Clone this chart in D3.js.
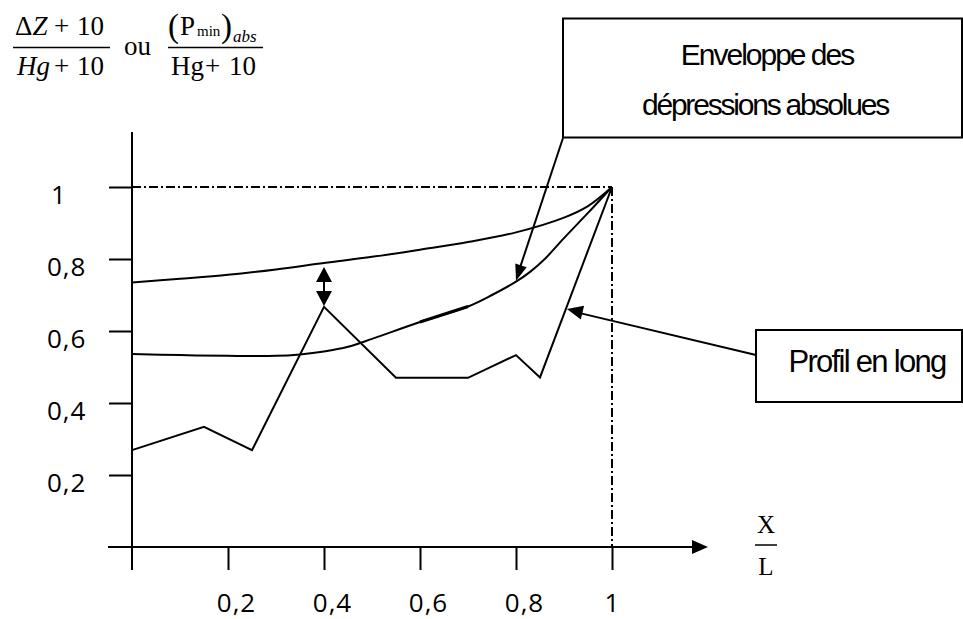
<!DOCTYPE html>
<html>
<head>
<meta charset="utf-8">
<script src="https://cdn.jsdelivr.net/npm/d3@7"></script>
<style>
  body { margin: 0; background: #fff; }
  svg { display: block; }
  .tick text { font-family: "Open Sans", sans-serif; font-size: 26px; letter-spacing: 1px; fill: #000; }
  .tick line { stroke: #000; stroke-width: 2; }
  .math { font-family: "Liberation Serif", "Times New Roman", serif; fill: #000; }
  .box text { font-family: "Liberation Sans", Arial, sans-serif; fill: #000; }
</style>
</head>
<body>
<script>
let w = 963;
let h = 619;

// axis ticks
let xTicks = [0.2, 0.4, 0.6, 0.8, 1];
let yTicks = [0.2, 0.4, 0.6, 0.8, 1];

// (ΔZ+10)/(Hg+10) curve
let upperX = [0, 0.1, 0.2, 0.3, 0.4, 0.5, 0.6, 0.7, 0.8, 0.9, 0.95, 1];
let upperY = [0.735, 0.745, 0.756, 0.771, 0.789, 0.806, 0.826, 0.847, 0.874, 0.915, 0.947, 1];

// enveloppe des dépressions absolues
let envX = [0, 0.1, 0.2, 0.3, 0.35, 0.4, 0.45, 0.5, 0.6, 0.7, 0.75, 0.8, 0.83, 0.86, 0.9, 0.95, 1];
let envY = [0.536, 0.533, 0.531, 0.531, 0.535, 0.543, 0.556, 0.578, 0.625, 0.668, 0.70, 0.737, 0.765, 0.80, 0.858, 0.928, 1];

// profil en long
let profX = [0, 0.15, 0.25, 0.4, 0.55, 0.7, 0.8, 0.85, 1];
let profY = [0.269, 0.334, 0.269, 0.667, 0.47, 0.47, 0.533, 0.471, 1];

let x = d3.scaleLinear().domain([0, 1]).range([132, 612]);
let y = d3.scaleLinear().domain([0, 1]).range([547, 187]);

let fr = d3.formatLocale({ decimal: ",", thousands: ".", grouping: [3], currency: ["", ""] });
let fmt = d => fr.format("~g")(d);

let svg = d3.select("body")
            .append("svg")
            .attr("width", w)
            .attr("height", h);

// dash-dot guides to (1,1)
svg.append("line")
   .attr("x1", x(0)).attr("y1", y(1))
   .attr("x2", x(1)).attr("y2", y(1))
   .attr("stroke", "#000").attr("stroke-width", 2)
   .attr("stroke-dasharray", "9,3,2,3");
svg.append("line")
   .attr("x1", x(1)).attr("y1", y(1))
   .attr("x2", x(1)).attr("y2", y(0))
   .attr("stroke", "#000").attr("stroke-width", 2)
   .attr("stroke-dasharray", "9,3,2,3");

// x axis
let xAxis = svg.append("g")
   .attr("transform", "translate(0," + y(0) + ")")
   .call(d3.axisBottom(x).tickValues(xTicks).tickSize(23).tickSizeOuter(0).tickFormat(fmt));
xAxis.select(".domain").remove();
xAxis.selectAll(".tick text")
     .attr("y", 65).attr("dy", 0)
     .attr("x", d => d < 1 ? 8 : 0);
svg.append("line")
   .attr("x1", 108).attr("y1", y(0))
   .attr("x2", 694).attr("y2", y(0))
   .attr("stroke", "#000").attr("stroke-width", 2);
svg.append("path")
   .attr("d", "M692," + (y(0) - 7) + "L708," + y(0) + "L692," + (y(0) + 7) + "Z")
   .attr("fill", "#000");

// y axis
let yAxis = svg.append("g")
   .attr("transform", "translate(" + x(0) + ",0)")
   .call(d3.axisLeft(y).tickValues(yTicks).tickSize(23).tickSizeOuter(0).tickFormat(fmt));
yAxis.select(".domain").remove();
yAxis.selectAll(".tick text")
     .attr("text-anchor", "start")
     .attr("x", d => d < 1 ? -85 : -81).attr("dy", 0).attr("y", 16.5);
svg.append("line")
   .attr("x1", x(0)).attr("y1", 132)
   .attr("x2", x(0)).attr("y2", 570)
   .attr("stroke", "#000").attr("stroke-width", 2);

// curves
let curve = d3.line()
              .x(d => x(d[0]))
              .y(d => y(d[1]))
              .curve(d3.curveCatmullRom.alpha(0.5));

let upper = d3.zip(upperX, upperY);
let env = d3.zip(envX, envY);
let prof = d3.zip(profX, profY);

svg.append("path")
   .attr("d", curve(upper))
   .attr("fill", "none").attr("stroke", "#000").attr("stroke-width", 2);
svg.append("path")
   .attr("d", curve(env))
   .attr("fill", "none").attr("stroke", "#000").attr("stroke-width", 2);
// small overdrawn piece on the envelope
svg.append("path")
   .attr("d", curve(env.filter(d => d[0] >= 0.6 && d[0] <= 0.7)))
   .attr("fill", "none").attr("stroke", "#000").attr("stroke-width", 3);

svg.append("path")
   .attr("d", d3.line().x(d => x(d[0])).y(d => y(d[1]))(prof))
   .attr("fill", "none").attr("stroke", "#000").attr("stroke-width", 2)
   .attr("stroke-linejoin", "miter");

// arrow helper: filled triangle at (tx,ty) pointing away from (fx,fy)
function arrowHead(fx, fy, tx, ty, len, half) {
  let a = Math.atan2(ty - fy, tx - fx);
  let bx = tx - len * Math.cos(a), by = ty - len * Math.sin(a);
  let px = -Math.sin(a) * half, py = Math.cos(a) * half;
  svg.append("path")
     .attr("d", "M" + tx + "," + ty + "L" + (bx + px) + "," + (by + py) + "L" + (bx - px) + "," + (by - py) + "Z")
     .attr("fill", "#000");
}

// double arrow between the two quantities at x = 0.4
let dax = x(0.4);
let daTop = y(0.789) + 4, daBot = y(0.667) - 1;
svg.append("line")
   .attr("x1", dax).attr("y1", daTop + 10)
   .attr("x2", dax).attr("y2", daBot - 10)
   .attr("stroke", "#000").attr("stroke-width", 2);
arrowHead(dax, daBot, dax, daTop, 15, 8);
arrowHead(dax, daTop, dax, daBot, 15, 8);

// annotation boxes
let boxes = svg.append("g").attr("class", "box");

boxes.append("rect")
     .attr("x", 563).attr("y", 18.5).attr("width", 399).attr("height", 119)
     .attr("fill", "none").attr("stroke", "#000").attr("stroke-width", 2);
boxes.append("text")
     .attr("x", 767).attr("y", 65).attr("text-anchor", "middle")
     .style("font-size", "30px").style("letter-spacing", "-2px")
     .text("Enveloppe des");
boxes.append("text")
     .attr("x", 765).attr("y", 115).attr("text-anchor", "middle")
     .style("font-size", "30px").style("letter-spacing", "-2.2px")
     .text("dépressions absolues");

let envTip = [x(0.8), y(0.737) - 1];
svg.append("line")
   .attr("x1", 563).attr("y1", 138)
   .attr("x2", envTip[0] + 3).attr("y2", envTip[1] - 10)
   .attr("stroke", "#000").attr("stroke-width", 2);
arrowHead(563, 138, envTip[0], envTip[1], 16, 6);

boxes.append("rect")
     .attr("x", 756).attr("y", 330).attr("width", 206).attr("height", 72)
     .attr("fill", "none").attr("stroke", "#000").attr("stroke-width", 2);
boxes.append("text")
     .attr("x", 867).attr("y", 372).attr("text-anchor", "middle")
     .style("font-size", "31px").style("letter-spacing", "-1.7px")
     .text("Profil en long");

let pxv = 0.904;
let pyv = 0.471 + (pxv - 0.85) / 0.15 * (1 - 0.471);
let profTip = [x(pxv) + 1, y(pyv)];
svg.append("line")
   .attr("x1", 756).attr("y1", 355)
   .attr("x2", profTip[0] + 12).attr("y2", profTip[1] + 4)
   .attr("stroke", "#000").attr("stroke-width", 2);
arrowHead(756, 355, profTip[0], profTip[1], 16, 7);

// y axis title (formula)
let m = svg.append("g").attr("class", "math");
let num1 = m.append("text").attr("y", 35).style("font-size", "27px");
num1.append("tspan").attr("x", 15).text("Δ");
num1.append("tspan").attr("font-style", "italic").text("Z");
num1.append("tspan").attr("x", 54).text("+");
num1.append("tspan").attr("x", 77).text("10");
m.append("line").attr("x1", 13).attr("x2", 110).attr("y1", 47.5).attr("y2", 47.5)
 .attr("stroke", "#000").attr("stroke-width", 1.5);
let den1 = m.append("text").attr("y", 75).style("font-size", "27px");
den1.append("tspan").attr("x", 17).attr("font-style", "italic").text("Hg");
den1.append("tspan").attr("x", 54).text("+");
den1.append("tspan").attr("x", 77).text("10");

m.append("text").attr("x", 124).attr("y", 55).style("font-size", "27px").text("ou");

let num2 = m.append("text").attr("y", 35);
num2.append("tspan").attr("x", 168).attr("y", 37).style("font-size", "33px").text("(");
num2.append("tspan").attr("x", 180).attr("y", 35).style("font-size", "27px").text("P");
num2.append("tspan").attr("x", 197).attr("y", 36).style("font-size", "15px").text("min");
num2.append("tspan").attr("x", 221).attr("y", 37).style("font-size", "33px").text(")");
num2.append("tspan").attr("x", 233).attr("y", 42).attr("font-style", "italic").style("font-size", "17px").text("abs");
m.append("line").attr("x1", 168).attr("x2", 263).attr("y1", 47.5).attr("y2", 47.5)
 .attr("stroke", "#000").attr("stroke-width", 1.5);
let den2 = m.append("text").attr("y", 75).style("font-size", "27px");
den2.append("tspan").attr("x", 171).text("Hg");
den2.append("tspan").attr("x", 205).text("+");
den2.append("tspan").attr("x", 229).text("10");

// x axis title
m.append("text").attr("x", 766).attr("y", 533).attr("text-anchor", "middle")
 .style("font-size", "25px").text("X");
m.append("line").attr("x1", 755).attr("x2", 777).attr("y1", 545).attr("y2", 545)
 .attr("stroke", "#000").attr("stroke-width", 1.5);
m.append("text").attr("x", 766).attr("y", 575).attr("text-anchor", "middle")
 .style("font-size", "25px").text("L");
</script>
</body>
</html>
